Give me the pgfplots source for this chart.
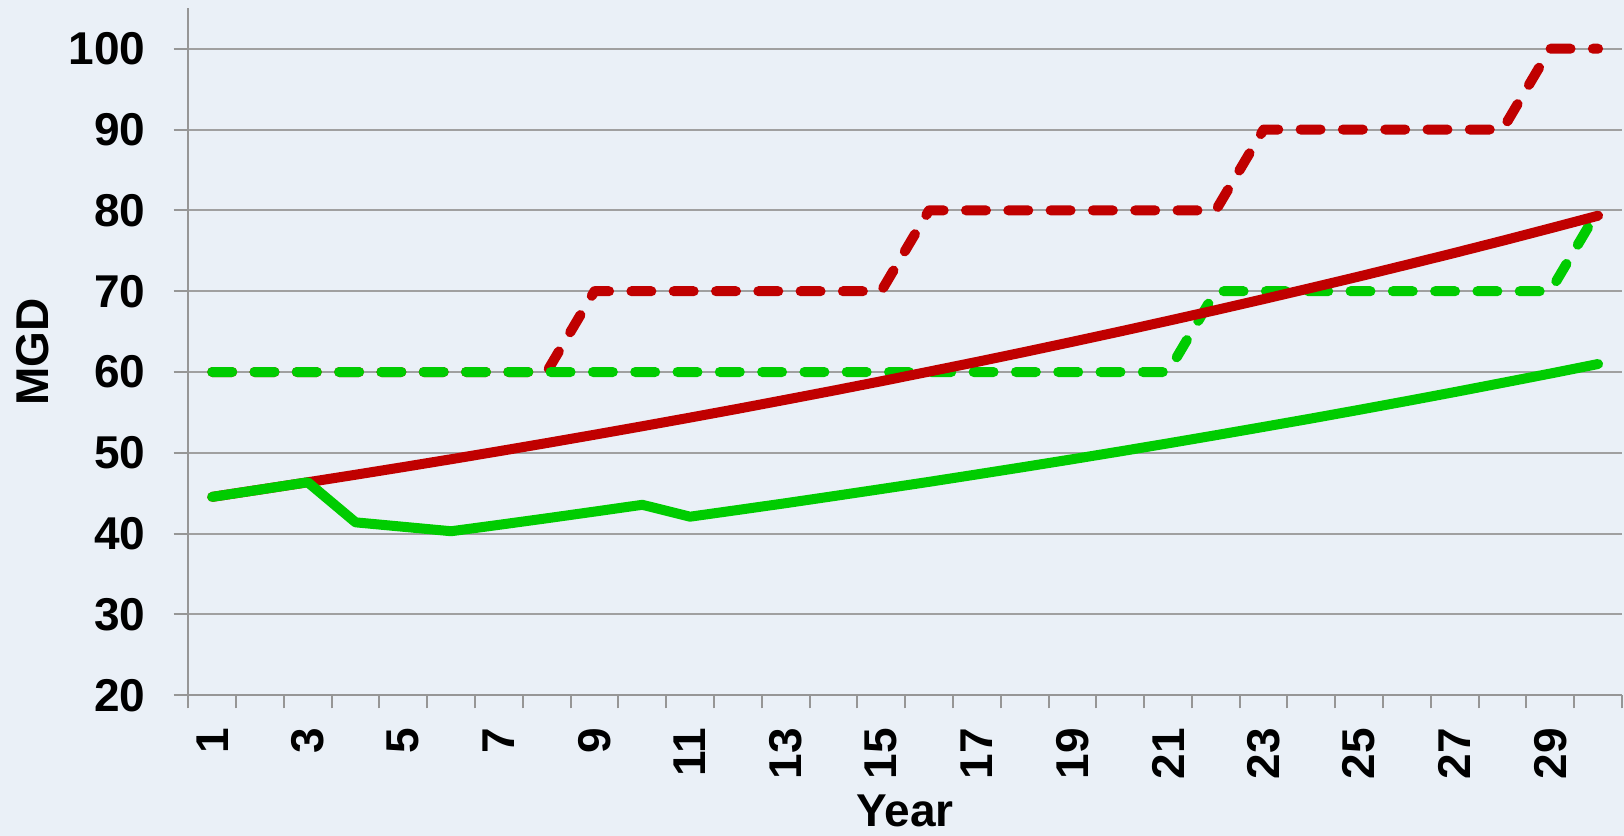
\documentclass[border=0pt]{standalone}
\usepackage{fontspec}
\setmainfont{Liberation Sans}
\usepackage{pgfplots}
\pgfplotsset{compat=1.18}
\usepackage{pgfplotstable}
\definecolor{bgc}{RGB}{234,240,247}
\definecolor{axc}{RGB}{150,150,150}
\definecolor{gridc}{RGB}{160,160,160}
\definecolor{rc}{RGB}{192,0,0}
\definecolor{gc}{RGB}{0,204,0}

\pgfplotstableread{
x rs gs rd gd
1 44.55 44.55 60 60
2 45.45 45.45 60 60
3 46.36 46.36 60 60
4 47.29 41.40 60 60
5 48.24 40.85 60 60
6 49.21 40.30 60 60
7 50.20 41.09 60 60
8 51.21 41.90 60 60
9 52.24 42.73 70 60
10 53.29 43.57 70 60
11 54.36 42.10 70 60
12 55.45 42.93 70 60
13 56.57 43.77 70 60
14 57.70 44.64 70 60
15 58.86 45.52 70 60
16 60.05 46.41 80 60
17 61.25 47.33 80 60
18 62.48 48.26 80 60
19 63.74 49.21 80 60
20 65.02 50.18 80 60
21 66.33 51.17 80 60
22 67.66 52.18 80 70
23 69.02 53.21 90 70
24 70.41 54.25 90 70
25 71.82 55.32 90 70
26 73.27 56.41 90 70
27 74.74 57.52 90 70
28 76.24 58.66 90 70
29 77.78 59.81 100 70
30 79.34 60.99 100 80
}\data

\begin{document}
\begin{tikzpicture}
\path[use as bounding box, fill=bgc] (-94.15pt,-70.35pt) rectangle (717.85pt,347.65pt);
\begin{axis}[
  at={(0,0)}, anchor=south west,
  scale only axis, width=716.85pt, height=343.5pt,
  xmin=0.5, xmax=30.5, ymin=20, ymax=105,
  axis x line*=bottom, axis y line*=left,
  axis line style={draw=axc, line width=1pt},
  every tick/.style={draw=axc, line width=1pt},
  tick align=outside,
  major tick length=7.3pt,
  minor tick length=6.5pt,
  ytick={20,30,...,100},
  xtick={1,3,...,29},
  xticklabels={1,3,5,7,9,11,13,15,17,19,21,23,25,27,29},
  minor xtick={0.5,1.5,...,30.5},
  major x tick style={draw=none},
  ymajorgrids,
  major grid style={draw=gridc, line width=1pt},
  /pgf/number format/assume math mode=true,
  tick label style={font=\fontsize{23}{23}\selectfont\bfseries},
  yticklabel style={anchor=east, inner sep=0pt},
  yticklabel shift=14pt,
  xticklabel style={rotate=90, anchor=east, inner sep=0pt},
  xticklabel shift=8.85pt,
  label style={font=\fontsize{23}{23}\selectfont\bfseries},
  xlabel={Year},
  xlabel style={at={(rel axis cs:0.5,0)}, anchor=base, yshift=-65.5pt, inner sep=0pt},
  ylabel={MGD},
  ylabel style={at={(rel axis cs:-0.1087,0.5)}, anchor=center, inner sep=0pt},
  every axis plot/.append style={line width=5pt, line cap=round, line join=round},
]
\addplot[rc, dash pattern=on 10pt off 11.15pt] table[x=x, y=rd] {\data};
\addplot[gc, dash pattern=on 10pt off 11.15pt] table[x=x, y=gd] {\data};
\addplot[rc] table[x=x, y=rs] {\data};
\addplot[gc] table[x=x, y=gs] {\data};
\end{axis}
\end{tikzpicture}
\end{document}
